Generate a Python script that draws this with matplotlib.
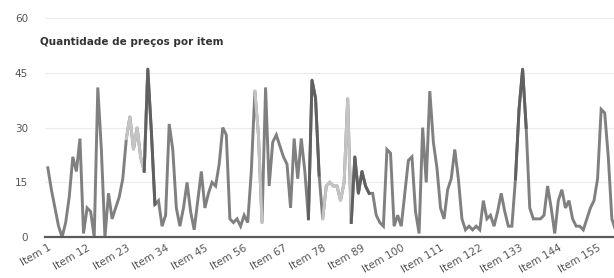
import matplotlib
matplotlib.use("Agg")
import matplotlib.pyplot as plt
import matplotlib.transforms as mtransforms

# quantidade de preços por item
values = [19, 13, 8, 3, 0, 4, 11, 22, 18, 27,
          1, 8, 7, 0, 41, 24, 0, 12, 5, 8,
          11, 16, 27, 33, 24, 30, 22, 18, 46, 29,
          9, 10, 3, 6, 31, 24, 8, 3, 8, 15,
          7, 2, 10, 18, 8, 12, 15, 14, 20, 30,
          28, 5, 4, 5, 3, 6, 4, 18, 40, 28,
          4, 41, 14, 26, 28, 25, 22, 20, 8, 27,
          16, 27, 18, 5, 43, 38, 17, 5, 14, 15,
          14, 14, 10, 15, 38, 4, 22, 12, 18, 14,
          12, 12, 6, 4, 3, 24, 23, 3, 6, 3,
          12, 21, 22, 7, 1, 30, 15, 40, 26, 19,
          8, 5, 13, 16, 24, 16, 5, 2, 3, 2,
          3, 2, 10, 5, 6, 3, 7, 12, 7, 3,
          3, 16, 35, 46, 30, 8, 5, 5, 5, 6,
          14, 8, 1, 10, 13, 8, 10, 5, 3, 3,
          2, 5, 8, 10, 16, 35, 34, 22, 5, 2]
items = list(range(1, len(values) + 1))
labels = [f"Item {i}" for i in items]
tick_items = items[::11]
y_ticks = [0, 15, 30, 45, 60]

# trechos desenhados em tons diferentes (item inicial, item final)
light_spans = [(23, 29), (59, 61), (78, 86)]
dark_spans = [(28, 31), (74, 77), (86, 91), (132, 135)]

fig = plt.figure(figsize=(6.14, 2.78), dpi=100)
ax = fig.add_axes([0.073, 0.147, 0.927, 0.788])

ax.plot(items, values, color='#808080', linewidth=2.1, solid_joinstyle='miter')
for a, b in light_spans:
    ax.plot(items[a - 1:b], values[a - 1:b], color='#c4c4c4', linewidth=2.1)
for a, b in dark_spans:
    ax.plot(items[a - 1:b], values[a - 1:b], color='#606060', linewidth=2.1)

ax.set_xlim(0.16, 159.6)
ax.set_ylim(0, 60)
ax.set_yticks(y_ticks)
ax.set_xticks(tick_items)
ax.set_xticklabels([labels[i - 1] for i in tick_items], rotation=30, ha='right',
                   rotation_mode='anchor', fontsize=7.5, color='#555555')
offset = mtransforms.ScaledTranslation(8 / 100, 0, fig.dpi_scale_trans)
for lab in ax.get_xticklabels():
    lab.set_transform(lab.get_transform() + offset)
ax.tick_params(axis='y', length=0, pad=12, labelsize=7.5, labelcolor='#555555')
ax.tick_params(axis='x', length=0, pad=4)
ax.grid(axis='y', color='#ececec', linewidth=0.8)
ax.set_axisbelow(True)
for s in ['top', 'right', 'left']:
    ax.spines[s].set_visible(False)
ax.spines['bottom'].set_color('#5a5a5a')
ax.spines['bottom'].set_linewidth(1.6)

fig.text(40 / 614, 1 - 42 / 278, 'Quantidade de preços por item', fontsize=7.5,
         fontweight='bold', color='#333333', va='center')

fig.savefig('out.png', dpi=100)
